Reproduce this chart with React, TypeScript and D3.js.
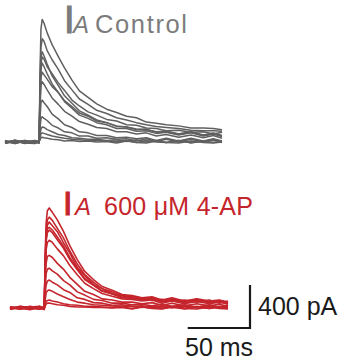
import React from "react";
import * as d3 from "d3";

// time points (ms) shared by every trace
const timeMs = [0, 8, 16, 24, 27.5, 28.3, 29, 30, 31.5, 34, 38, 43, 48, 54, 60, 67, 74, 82, 90, 98, 106, 114, 122, 130, 140, 150, 160, 168, 175];

// Control traces (pA)
const control1 = [-15, 20, -10, 15, 0, 680, 1050, 1140, 1105, 1015, 905, 795, 690, 575, 475, 415, 355, 305, 275, 240, 225, 185, 175, 160, 150, 130, 130, 125, 115];
const control2 = [10, -15, 15, -10, 5, 560, 880, 960, 935, 850, 765, 675, 570, 485, 400, 350, 295, 265, 225, 205, 180, 160, 145, 135, 125, 110, 105, 105, 100];
const control3 = [-10, 10, -15, 5, 5, 500, 785, 840, 800, 725, 615, 525, 430, 360, 290, 250, 205, 180, 145, 140, 115, 120, 90, 100, 75, 95, 65, 85, 60];
const control4 = [15, -10, 5, 10, -10, 470, 730, 790, 770, 700, 635, 550, 480, 390, 335, 280, 250, 210, 195, 160, 155, 130, 125, 105, 110, 90, 95, 75, 90];
const control5 = [0, 15, -10, -15, 10, 445, 680, 735, 700, 635, 540, 460, 375, 315, 250, 220, 180, 160, 125, 125, 100, 105, 80, 90, 65, 85, 55, 75, 50];
const control6 = [-10, 5, 15, -10, 0, 385, 600, 650, 625, 585, 515, 460, 385, 330, 270, 240, 195, 180, 150, 140, 120, 115, 95, 100, 75, 90, 60, 80, 55];
const control7 = [10, -15, 10, 5, -10, 330, 525, 560, 535, 485, 410, 350, 285, 240, 190, 165, 135, 125, 95, 95, 75, 85, 55, 70, 45, 65, 40, 60, 35];
const control8 = [0, 10, -10, 15, 0, 230, 365, 390, 365, 330, 260, 215, 160, 135, 95, 85, 60, 60, 40, 45, 30, 40, 15, 35, 10, 35, 10, 30, 10];
const control9 = [-10, 10, 0, -10, 10, 140, 215, 235, 220, 200, 155, 130, 95, 85, 55, 55, 35, 40, 25, 30, 10, 30, 5, 25, 0, 25, 0, 20, 0];
const control10 = [10, -10, 10, 0, -10, 70, 120, 140, 135, 115, 95, 70, 60, 40, 35, 25, 25, 15, 20, 5, 20, 0, 15, -5, 15, -5, 10, 15, -5];
const control11 = [0, 10, -10, 10, 0, 40, 75, 85, 80, 70, 55, 45, 35, 25, 20, 15, 15, 10, 5, 15, -5, 15, 0, -5, 15, -10, 10, -5, 10];
const control12 = [-10, 0, 10, -10, 10, 20, 40, 45, 40, 35, 25, 20, 10, 15, 5, 10, 0, 5, -10, 10, -5, -10, 10, -5, -10, 10, -5, -10, 0];

// 600 µM 4-AP traces (pA)
const ap1 = [-15, 15, 0, -10, 10, 510, 790, 905, 930, 890, 820, 710, 580, 450, 340, 265, 200, 165, 125, 115, 95, 105, 75, 95, 65, 85, 65, 75, 55];
const ap2 = [10, -10, 15, 0, -15, 460, 720, 820, 845, 815, 740, 650, 530, 410, 310, 240, 180, 150, 115, 105, 90, 95, 65, 85, 60, 80, 55, 70, 50];
const ap3 = [0, 10, -10, 15, 0, 440, 685, 770, 800, 765, 710, 605, 510, 380, 300, 220, 180, 130, 115, 90, 95, 70, 80, 60, 75, 55, 75, 45, 65];
const ap4 = [10, 0, -15, 10, -10, 410, 640, 735, 750, 725, 660, 575, 470, 365, 275, 215, 160, 135, 100, 95, 80, 85, 60, 80, 50, 70, 50, 65, 45];
const ap5 = [-10, 15, 5, -10, 0, 400, 620, 700, 725, 700, 635, 555, 450, 355, 265, 210, 155, 130, 95, 90, 75, 85, 55, 75, 50, 70, 50, 60, 40];
const ap6 = [0, -10, 10, 15, -10, 345, 540, 610, 630, 610, 550, 485, 395, 310, 230, 180, 135, 110, 85, 80, 65, 75, 45, 65, 40, 60, 40, 55, 35];
const ap7 = [10, 0, -10, 0, 10, 270, 415, 480, 490, 470, 415, 360, 285, 220, 155, 125, 85, 75, 55, 55, 40, 50, 25, 45, 20, 40, 20, 35, 15];
const ap8 = [-10, 10, 0, -10, 0, 200, 320, 360, 370, 345, 315, 255, 215, 150, 120, 80, 70, 45, 45, 30, 35, 20, 35, 15, 30, 10, 30, 10, 25];
const ap9 = [10, -10, 10, 0, -10, 140, 215, 250, 260, 240, 215, 170, 145, 95, 80, 50, 45, 25, 30, 15, 20, 5, 20, 0, 20, 0, 20, 0, 15];
const ap10 = [0, 10, -10, 10, 0, 80, 140, 160, 167, 155, 130, 105, 80, 55, 45, 30, 25, 20, 15, 15, 5, 15, 0, 15, 0, 15, -5, 15, 0];
const ap11 = [-10, 0, 10, -10, 10, 35, 60, 70, 74, 65, 55, 40, 30, 25, 15, 15, 10, 5, 10, -5, 10, 0, -5, 10, -10, 10, -5, 10, -5];
const ap12 = [10, -10, 0, 10, -10, 20, 35, 45, 46, 40, 30, 25, 15, 10, 10, 5, 5, 0, 5, -10, 10, -5, -10, 10, -5, -10, 10, -5, -10];

const controlTraces = [control1, control2, control3, control4, control5, control6, control7, control8, control9, control10, control11, control12];
const apTraces = [ap1, ap2, ap3, ap4, ap5, ap6, ap7, ap8, ap9, ap10, ap11, ap12];

const scaleBarPA = 400;
const scaleBarMs = 50;

const GRAY_TRACE = "#606060";
const GRAY_TEXT = "#7c7c7c";
const RED = "#c5252c";
const FONT = "'Liberation Sans', Arial, Helvetica, sans-serif";

export default function App() {
  const xTop = d3.scaleLinear().domain([0, 175]).range([5, 222]);
  const yTop = d3.scaleLinear().domain([0, 400]).range([142, 99]);
  const xBot = d3.scaleLinear().domain([0, 175]).range([10, 228]);
  const yBot = d3.scaleLinear().domain([0, 400]).range([308, 265]);

  const lineFor = (xs: d3.ScaleLinear<number, number>, ys: d3.ScaleLinear<number, number>) =>
    d3
      .line<number>()
      .x((_, i) => xs(timeMs[i]))
      .y((v) => ys(v))
      .curve(d3.curveLinear);

  const topLine = lineFor(xTop, yTop);
  const botLine = lineFor(xBot, yBot);

  // scale bar
  const barX = 250;
  const barBottom = 328;
  const barTop = barBottom - (yBot(0) - yBot(scaleBarPA));
  const barLeft = barX - (xBot(scaleBarMs) - xBot(0));

  return (
    <svg
      width={346}
      height={362}
      style={{ position: "absolute", left: 0, top: 0, background: "#fff" }}
    >
      <g fill="none" stroke={GRAY_TRACE} strokeWidth={1.5} strokeLinejoin="round">
        {controlTraces.map((t, i) => (
          <path key={i} d={topLine(t) || ""} />
        ))}
      </g>
      <g fill="none" stroke={RED} strokeWidth={1.6} strokeLinejoin="round">
        {apTraces.map((t, i) => (
          <path key={i} d={botLine(t) || ""} />
        ))}
      </g>

      {/* titles */}
      <g fontFamily={FONT} fill={GRAY_TEXT}>
        <text x={64} y={33} fontSize={38} stroke={GRAY_TEXT} strokeWidth={1.1}>I</text>
        <text x={73} y={33} fontSize={24} fontStyle="italic">A</text>
        <text x={95} y={33} fontSize={25.5} textLength={92}>Control</text>
      </g>
      <g fontFamily={FONT} fill={RED}>
        <text x={63} y={215} fontSize={34} stroke={RED} strokeWidth={1.1}>I</text>
        <text x={75} y={215} fontSize={24} fontStyle="italic">A</text>
        <text x={104} y={215} fontSize={25} textLength={149}>600 μM 4-AP</text>
      </g>

      {/* scale bar */}
      <path
        d={`M${barLeft},${barBottom}H${barX}V${barTop}`}
        fill="none"
        stroke="#1a1a1a"
        strokeWidth={2.2}
      />
      <g fontFamily={FONT} fill="#1a1a1a" fontSize={25}>
        <text x={258} y={315}>400 pA</text>
        <text x={185} y={356}>50 ms</text>
      </g>
    </svg>
  );
}
